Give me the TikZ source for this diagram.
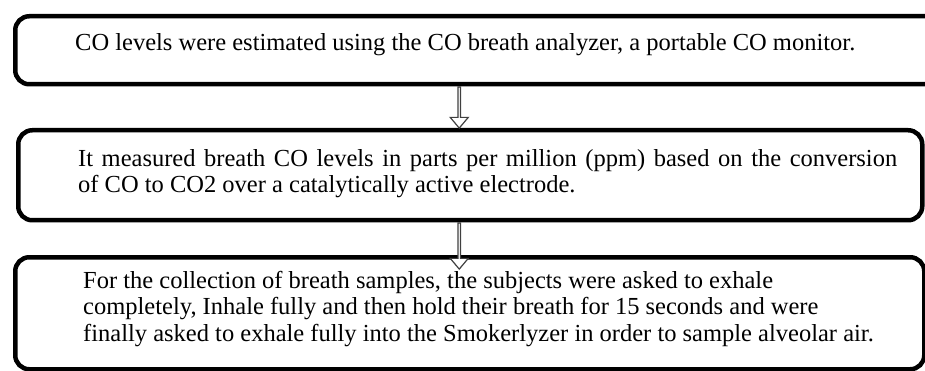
\documentclass[tikz,border=0pt]{standalone}
\usepackage{fontspec}
\setmainfont{Liberation Serif}
\usetikzlibrary{shapes.arrows, positioning, calc}

\begin{document}
\begin{tikzpicture}[x=1pt, y=-1pt]
    \tikzstyle{stage} = [
        rectangle, draw, line width=4.5pt, rounded corners=14pt,
        anchor=north west, inner sep=0pt
    ]

    \tikzstyle{desc} = [
        align=left, anchor=north west, inner sep=0pt,
        font=\fontsize{24.5}{26.5}\selectfont
    ]

    \tikzstyle{flow} = [
        single arrow, draw=black!75, fill=white, line width=1.2pt,
        minimum width=18pt, single arrow head extend=4pt,
        single arrow tip angle=80, single arrow head indent=0pt,
        shape border rotate=270, anchor=tail, inner sep=0pt
    ]

    \useasboundingbox (0,0) rectangle (925,371);
    \clip (0,0) rectangle (925,371);

    % Boxes
    \node[stage, minimum width=940pt, minimum height=68pt] (estimate) at (13,14) {};
    \node[stage, minimum width=904pt, minimum height=90pt] (measure) at (16,128) {};
    \node[stage, minimum width=909pt, minimum height=112pt] (collect) at (13,255) {};

    % Texts
    \node[desc] (estimate_txt) at ([xshift=62pt, yshift=-19pt]estimate.north west) {
        CO levels were estimated using the CO breath analyzer, a portable CO monitor.
    };
    \node[desc] (measure_txt) at ([xshift=62pt, yshift=-21pt]measure.north west) {
        \makebox[819pt][s]{It measured breath CO levels in parts per million (ppm) based on the conversion}\\
        of CO to CO2 over a catalytically active electrode.
    };
    \node[desc] (collect_txt) at ([xshift=70pt, yshift=-16pt]collect.north west) {
        For the collection of breath samples, the subjects were asked to exhale\\
        completely, Inhale fully and then hold their breath for 15 seconds and were\\
        finally asked to exhale fully into the Smokerlyzer in order to sample alveolar air.
    };

    % Arrows
    \node[flow, minimum height=41pt] (arrow1) at ($(estimate.south -| measure.north) + (-11,0)$) {};
    \node[flow, minimum height=46pt] (arrow2) at ($(measure.south) + (-11,0)$) {};

\end{tikzpicture}
\end{document}
